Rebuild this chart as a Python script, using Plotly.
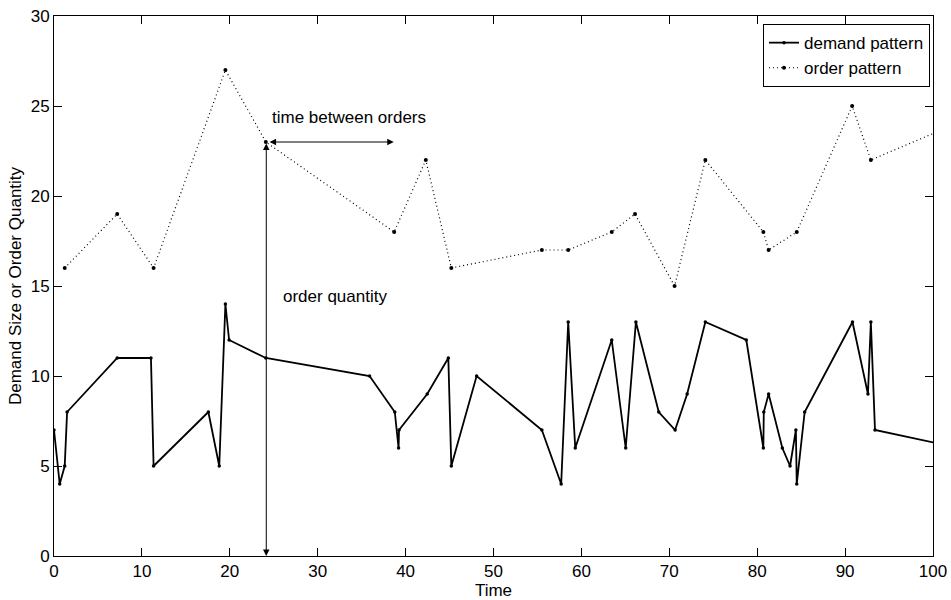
import plotly.graph_objects as go

# Demand pattern (time, size)
demand_t = [0, 0.65, 1.22, 1.49, 7.19, 11.03, 11.33, 17.56, 18.8, 19.5, 19.92, 24.1,
            35.9, 38.77, 39.2, 39.25, 42.46, 44.86, 45.2, 48.08, 55.5, 57.7, 58.5, 59.3,
            63.45, 65.04, 66.2, 68.8, 70.66, 72.03, 74.1, 78.76, 80.7, 80.75, 81.3,
            82.86, 83.74, 84.4, 84.5, 85.4, 90.84, 92.6, 92.93, 93.4, 104]
demand_q = [7, 4, 5, 8, 11, 11, 5, 8, 5, 14, 12, 11,
            10, 8, 6, 7, 9, 11, 5, 10, 7, 4, 13, 6,
            12, 6, 13, 8, 7, 9, 13, 12, 6, 8, 9,
            6, 5, 7, 4, 8, 13, 9, 13, 7, 5.9]

# Order pattern (time, quantity)
order_t = [1.22, 7.19, 11.33, 19.5, 24.1, 38.7, 42.3, 45.2, 55.5, 58.5, 63.45, 66.1,
           70.6, 74.1, 80.7, 81.3, 84.5, 90.8, 92.93, 104]
order_q = [16, 19, 16, 27, 23, 18, 22, 16, 17, 17, 18, 19,
           15, 22, 18, 17, 18, 25, 22, 24.3]

x_ticks = [0, 10, 20, 30, 40, 50, 60, 70, 80, 90, 100]
y_ticks = [0, 5, 10, 15, 20, 25, 30]

FONT = "Arial, Liberation Sans, sans-serif"
FS = 17

fig = go.Figure()
fig.add_trace(go.Scatter(
    x=demand_t, y=demand_q, mode="lines+markers", name="demand pattern",
    line=dict(color="black", width=1.8),
    marker=dict(color="black", size=3.5, symbol="circle"),
))
fig.add_trace(go.Scatter(
    x=order_t, y=order_q, mode="lines+markers", name="order pattern",
    line=dict(color="black", width=1.2, dash="1px,3px"),
    marker=dict(color="black", size=4, symbol="circle"),
))

# Annotation arrows
fig.add_annotation(x=24.15, y=0, ax=24.15, ay=23, xref="x", yref="y", axref="x", ayref="y",
                   showarrow=True, arrowhead=2, arrowsize=1.3, arrowwidth=1,
                   arrowside="end+start", arrowcolor="black", text="")
fig.add_annotation(x=38.65, y=23, ax=24.35, ay=23, xref="x", yref="y", axref="x", ayref="y",
                   showarrow=True, arrowhead=2, arrowsize=1.3, arrowwidth=1,
                   arrowside="end+start", arrowcolor="black", text="")
fig.add_annotation(x=24.55, y=24.35, xref="x", yref="y", text="time between orders",
                   showarrow=False, xanchor="left", yanchor="middle",
                   font=dict(family=FONT, size=FS, color="black"))
fig.add_annotation(x=25.85, y=14.4, xref="x", yref="y", text="order quantity",
                   showarrow=False, xanchor="left", yanchor="middle",
                   font=dict(family=FONT, size=FS, color="black"))

axis_common = dict(showline=True, linecolor="black", linewidth=1, mirror="ticks",
                   ticks="inside", ticklen=8, tickcolor="black", showgrid=False,
                   zeroline=False, automargin=False,
                   tickfont=dict(family=FONT, size=FS, color="black"))

fig.update_layout(
    width=951, height=600,
    margin=dict(l=54, r=18, t=16, b=44),
    paper_bgcolor="white", plot_bgcolor="white",
    font=dict(family=FONT, size=FS, color="black"),
    showlegend=True,
    legend=dict(x=0.9966, y=0.985, xanchor="right", yanchor="top",
                bgcolor="white", bordercolor="black", borderwidth=1,
                font=dict(family=FONT, size=FS, color="black"),
                tracegroupgap=0, itemwidth=30),
    xaxis=dict(range=[0, 100], tickvals=x_ticks, ticktext=[str(v) for v in x_ticks],
               title=dict(text="Time", standoff=4,
                          font=dict(family=FONT, size=FS, color="black")),
               **axis_common),
    yaxis=dict(range=[0, 30], tickvals=y_ticks, ticktext=[str(v) for v in y_ticks],
               title=dict(text="Demand Size or Order Quantity", standoff=4,
                          font=dict(family=FONT, size=FS, color="black")),
               **axis_common),
)

fig.write_html("out.html")
